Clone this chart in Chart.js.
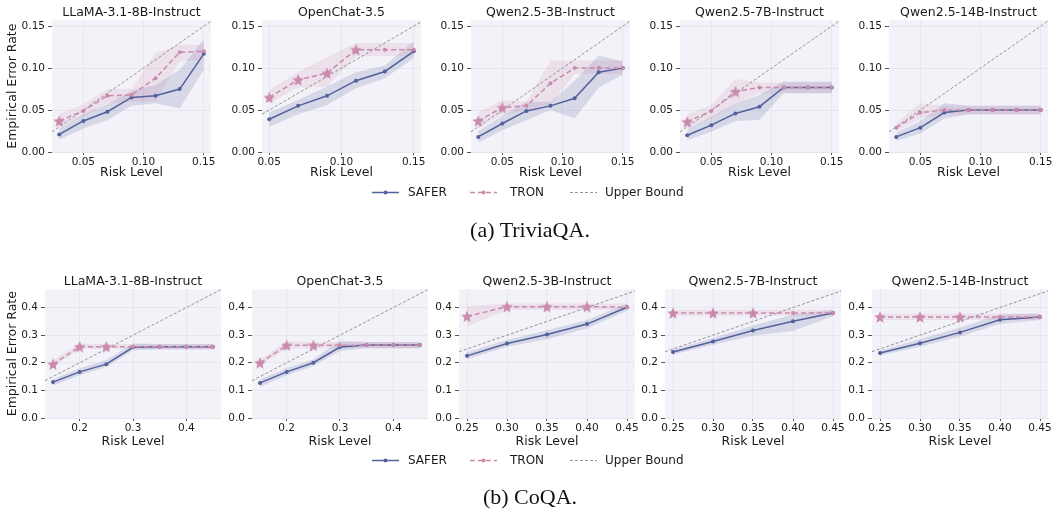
<!DOCTYPE html>
<html>
<head>
<meta charset="utf-8">
<script src="https://cdn.jsdelivr.net/npm/chart.js@4.4.1/dist/chart.umd.min.js"></script>
<style>
  body { margin: 0; background: #fff; width: 1057px; height: 519px; position: relative; overflow: hidden; font-family: "DejaVu Sans", sans-serif; }
  canvas { position: absolute; }
  .ttl { position: absolute; font-size: 12.5px; color: #1a1a1a; white-space: nowrap; transform: translate(-50%, -50%); }
  .leg { position: absolute; font-size: 12px; color: #1a1a1a; white-space: nowrap; transform: translateY(-50%); }
  .legsvg { position: absolute; transform: translateY(-50%); }
  .cap { position: absolute; font-family: "Liberation Serif", "Times New Roman", serif; font-size: 22px; color: #111; white-space: nowrap; transform: translate(-50%, -50%); }
</style>
</head>
<body>
<script>
// ---- data ----
const models = ['LLaMA-3.1-8B-Instruct', 'OpenChat-3.5', 'Qwen2.5-3B-Instruct', 'Qwen2.5-7B-Instruct', 'Qwen2.5-14B-Instruct'];

const triviaRiskA = [0.03, 0.05, 0.07, 0.09, 0.11, 0.13, 0.15];
const triviaRiskB = [0.05, 0.07, 0.09, 0.11, 0.13, 0.15];
const triviaRisk = [triviaRiskA, triviaRiskB, triviaRiskA, triviaRiskA, triviaRiskA];

const triviaSafer = [
  [0.021, 0.037, 0.048, 0.065, 0.067, 0.075, 0.117],
  [0.039, 0.055, 0.067, 0.085, 0.096, 0.120],
  [0.018, 0.034, 0.049, 0.055, 0.064, 0.095, 0.100],
  [0.020, 0.032, 0.046, 0.054, 0.077, 0.077, 0.077],
  [0.018, 0.029, 0.047, 0.050, 0.050, 0.050, 0.050]
];
const triviaSaferLo = [
  [0.015, 0.028, 0.038, 0.055, 0.058, 0.052, 0.098],
  [0.030, 0.045, 0.056, 0.076, 0.088, 0.112],
  [0.011, 0.026, 0.038, 0.050, 0.040, 0.077, 0.092],
  [0.014, 0.024, 0.037, 0.038, 0.070, 0.070, 0.070],
  [0.013, 0.022, 0.040, 0.045, 0.045, 0.045, 0.045]
];
const triviaSaferHi = [
  [0.028, 0.045, 0.057, 0.073, 0.080, 0.098, 0.134],
  [0.047, 0.062, 0.078, 0.095, 0.103, 0.132],
  [0.025, 0.043, 0.060, 0.060, 0.085, 0.115, 0.108],
  [0.027, 0.042, 0.058, 0.068, 0.084, 0.084, 0.084],
  [0.023, 0.037, 0.058, 0.055, 0.055, 0.055, 0.055]
];
const triviaTron = [
  [0.037, 0.049, 0.067, 0.068, 0.088, 0.119, 0.120],
  [0.065, 0.086, 0.094, 0.122, 0.122, 0.122],
  [0.037, 0.053, 0.055, 0.082, 0.100, 0.100, 0.100],
  [0.036, 0.049, 0.072, 0.077, 0.077, 0.077, 0.077],
  [0.029, 0.047, 0.050, 0.050, 0.050, 0.050, 0.050]
];
const triviaTronLo = [
  [0.030, 0.042, 0.058, 0.060, 0.060, 0.108, 0.110],
  [0.058, 0.077, 0.078, 0.114, 0.114, 0.114],
  [0.028, 0.044, 0.050, 0.057, 0.093, 0.093, 0.093],
  [0.028, 0.040, 0.058, 0.070, 0.070, 0.070, 0.070],
  [0.024, 0.040, 0.045, 0.045, 0.045, 0.045, 0.045]
];
const triviaTronHi = [
  [0.045, 0.057, 0.075, 0.075, 0.118, 0.128, 0.128],
  [0.074, 0.095, 0.113, 0.130, 0.130, 0.130],
  [0.047, 0.062, 0.060, 0.109, 0.109, 0.109, 0.109],
  [0.045, 0.056, 0.087, 0.083, 0.083, 0.083, 0.083],
  [0.035, 0.058, 0.055, 0.055, 0.055, 0.055, 0.055]
];

const coqaRiskA = [0.15, 0.20, 0.25, 0.30, 0.35, 0.40, 0.45];
const coqaRiskB = [0.25, 0.30, 0.35, 0.40, 0.45];
const coqaRisk = [coqaRiskA, coqaRiskA, coqaRiskB, coqaRiskB, coqaRiskB];

const coqaSafer = [
  [0.130, 0.167, 0.195, 0.256, 0.258, 0.258, 0.258],
  [0.127, 0.167, 0.200, 0.257, 0.264, 0.264, 0.264],
  [0.225, 0.270, 0.302, 0.340, 0.401],
  [0.239, 0.277, 0.317, 0.350, 0.380],
  [0.235, 0.271, 0.310, 0.356, 0.366]
];
const coqaSaferLo = [
  [0.118, 0.155, 0.185, 0.245, 0.248, 0.248, 0.248],
  [0.113, 0.155, 0.188, 0.243, 0.253, 0.253, 0.253],
  [0.213, 0.258, 0.285, 0.325, 0.388],
  [0.230, 0.265, 0.298, 0.315, 0.368],
  [0.226, 0.258, 0.295, 0.340, 0.355]
];
const coqaSaferHi = [
  [0.140, 0.180, 0.210, 0.270, 0.268, 0.268, 0.268],
  [0.140, 0.180, 0.213, 0.280, 0.275, 0.275, 0.275],
  [0.238, 0.282, 0.318, 0.355, 0.415],
  [0.248, 0.290, 0.335, 0.375, 0.392],
  [0.244, 0.285, 0.328, 0.375, 0.378]
];
const coqaTron = [
  [0.195, 0.258, 0.258, 0.258, 0.258, 0.258, 0.258],
  [0.200, 0.263, 0.263, 0.263, 0.264, 0.264, 0.264],
  [0.368, 0.403, 0.403, 0.403, 0.401],
  [0.380, 0.380, 0.380, 0.380, 0.380],
  [0.366, 0.366, 0.366, 0.366, 0.366]
];
const coqaTronLo = [
  [0.185, 0.250, 0.250, 0.250, 0.250, 0.250, 0.250],
  [0.190, 0.250, 0.253, 0.253, 0.253, 0.253, 0.253],
  [0.330, 0.392, 0.392, 0.392, 0.392],
  [0.370, 0.370, 0.370, 0.370, 0.370],
  [0.355, 0.355, 0.355, 0.355, 0.355]
];
const coqaTronHi = [
  [0.210, 0.270, 0.268, 0.268, 0.268, 0.268, 0.268],
  [0.210, 0.278, 0.275, 0.275, 0.275, 0.275, 0.275],
  [0.405, 0.415, 0.415, 0.415, 0.415],
  [0.392, 0.392, 0.392, 0.392, 0.392],
  [0.378, 0.378, 0.378, 0.378, 0.378]
];

// tick labels
const triviaXTicks = [0.05, 0.10, 0.15];
const triviaYTicks = [0.00, 0.05, 0.10, 0.15];
const coqaXTicksA = [0.2, 0.3, 0.4];
const coqaXTicksB = [0.25, 0.30, 0.35, 0.40, 0.45];
const coqaYTicks = [0.0, 0.1, 0.2, 0.3, 0.4];

// ---- style ----
const SAFER_C = '#52609b';
const TRON_C = '#c98aab';
const SAFER_BAND = 'rgba(82,96,155,0.18)';
const TRON_BAND = 'rgba(201,138,171,0.17)';
const PLOT_BG = '#f3f2f8';
const GRID_C = '#e7e6ee';
const TEXT_C = '#1a1a1a';

function makeStar(size, color) {
  const c = document.createElement('canvas');
  c.width = c.height = size;
  const g = c.getContext('2d');
  const r = size / 2, ri = r * 0.45;
  g.beginPath();
  for (let i = 0; i < 10; i++) {
    const a = -Math.PI / 2 + i * Math.PI / 5;
    const rr = i % 2 ? ri : r;
    g.lineTo(r + rr * Math.cos(a), r + rr * 1.05 * Math.sin(a) + 0.6);
  }
  g.closePath();
  g.fillStyle = color;
  g.fill();
  return c;
}
const star = makeStar(12, TRON_C);

const bgPlugin = {
  id: 'bg',
  beforeDraw(chart) {
    const { ctx, chartArea: a } = chart;
    ctx.save();
    ctx.fillStyle = PLOT_BG;
    ctx.fillRect(a.left, a.top, a.right - a.left, a.bottom - a.top);
    ctx.restore();
  }
};

function addText(cls, txt, x, y) {
  const d = document.createElement('div');
  d.className = cls;
  d.textContent = txt;
  d.style.left = x + 'px';
  d.style.top = y + 'px';
  document.body.appendChild(d);
}

function panel(o) {
  const padT = 8, padR = 16;
  const cv = document.createElement('canvas');
  cv.width = o.yw + o.w + padR;
  cv.height = padT + o.h + o.xh;
  cv.style.left = (o.left - o.yw) + 'px';
  cv.style.top = (o.top - padT) + 'px';
  document.body.appendChild(cv);

  const xr = o.risk;
  const span = xr[xr.length - 1] - xr[0];
  const xmin = xr[0] - span * 0.05, xmax = xr[xr.length - 1] + span * 0.05;
  const pts = ys => ys.map((y, i) => ({ x: xr[i], y: y }));
  const tronStyle = o.tron.map((y, i) => (y > xr[i] + 1e-9 ? star : 'circle'));

  const band = (data, color, fill, order) => ({
    data: pts(data), borderWidth: 0, pointRadius: 0, backgroundColor: color, fill: fill, order: order, tension: 0
  });

  new Chart(cv, {
    type: 'line',
    data: {
      datasets: [
        { data: pts(o.tron), borderColor: TRON_C, backgroundColor: TRON_C, borderWidth: 1.5, borderDash: [5, 3],
          pointStyle: tronStyle, pointRadius: 2, pointBorderWidth: 0, fill: false, order: 0 },
        { data: pts(o.safer), borderColor: SAFER_C, backgroundColor: SAFER_C, borderWidth: 1.5,
          pointStyle: 'circle', pointRadius: 2, pointBorderWidth: 0, fill: false, order: 1 },
        { data: [{ x: xmin, y: xmin }, { x: xmax, y: xmax }], borderColor: '#7a7a80', borderWidth: 0.8,
          borderDash: [3, 2], pointRadius: 0, fill: false, order: 2 },
        band(o.saferLo, SAFER_BAND, false, 5),
        band(o.saferHi, SAFER_BAND, '-1', 6),
        band(o.tronLo, TRON_BAND, false, 3),
        band(o.tronHi, TRON_BAND, '-1', 4)
      ]
    },
    options: {
      responsive: false,
      animation: false,
      events: [],
      layout: { padding: { top: padT, right: padR, left: 0, bottom: 0 } },
      plugins: { legend: { display: false }, tooltip: { enabled: false }, filler: { drawTime: 'beforeDatasetsDraw' } },
      scales: {
        x: {
          type: 'linear', min: xmin, max: xmax,
          afterBuildTicks: s => { s.ticks = o.xTicks.map(v => ({ value: v })); },
          afterFit: s => { s.height = o.xh; },
          ticks: { callback: v => v.toFixed(o.xDec), font: { family: 'DejaVu Sans', size: 10.5 }, color: TEXT_C,
                   padding: 1, maxRotation: 0, autoSkip: false },
          grid: { color: GRID_C, tickColor: '#555', tickLength: 3, lineWidth: 1 },
          border: { display: false },
          title: { display: true, text: 'Risk Level', font: { family: 'DejaVu Sans', size: 12.5 }, color: TEXT_C,
                   padding: { top: 0, bottom: 0 } }
        },
        y: {
          type: 'linear', min: 0, max: o.yMax,
          afterBuildTicks: s => { s.ticks = o.yTicks.map(v => ({ value: v })); },
          afterFit: s => { s.width = o.yw; },
          ticks: { callback: v => v.toFixed(o.yDec), font: { family: 'DejaVu Sans', size: 10.5 }, color: TEXT_C,
                   padding: 3, autoSkip: false },
          grid: { color: GRID_C, tickColor: '#555', tickLength: 4, lineWidth: 1 },
          border: { display: false },
          title: { display: !!o.yTitle, text: 'Empirical Error Rate', font: { family: 'DejaVu Sans', size: 12.5 },
                   color: TEXT_C, padding: { top: 5, bottom: 0 } }
        }
      }
    },
    plugins: [bgPlugin]
  });

  addText('ttl', o.title, o.left + o.w / 2, o.top - 8);
}

// row 1 : TriviaQA
const row1Left = [52, 262, 471, 680, 889];
models.forEach((m, i) => {
  panel({
    left: row1Left[i], top: 19, w: 159, h: 133, yw: i === 0 ? 52 : 40, xh: 28,
    risk: triviaRisk[i], safer: triviaSafer[i], saferLo: triviaSaferLo[i], saferHi: triviaSaferHi[i],
    tron: triviaTron[i], tronLo: triviaTronLo[i], tronHi: triviaTronHi[i],
    xTicks: triviaXTicks, yTicks: triviaYTicks, xDec: 2, yDec: 2, yMax: 0.157,
    title: m, yTitle: i === 0
  });
});

// row 2 : CoQA
const row2Left = [45, 252, 459, 665, 872];
models.forEach((m, i) => {
  panel({
    left: row2Left[i], top: 288, w: 176, h: 130, yw: i === 0 ? 45 : 36, xh: 31,
    risk: coqaRisk[i], safer: coqaSafer[i], saferLo: coqaSaferLo[i], saferHi: coqaSaferHi[i],
    tron: coqaTron[i], tronLo: coqaTronLo[i], tronHi: coqaTronHi[i],
    xTicks: i < 2 ? coqaXTicksA : coqaXTicksB, yTicks: coqaYTicks, xDec: i < 2 ? 1 : 2, yDec: 1, yMax: 0.466,
    title: m, yTitle: i === 0
  });
});

// legends
function legend(y) {
  const items = [
    { x: 372, tx: 408, label: 'SAFER', svg: '<line x1="0" y1="5" x2="27" y2="5" stroke="' + SAFER_C + '" stroke-width="1.5"/><circle cx="13.5" cy="5" r="2" fill="' + SAFER_C + '"/>' },
    { x: 470, tx: 510, label: 'TRON', svg: '<line x1="0" y1="5" x2="27" y2="5" stroke="' + TRON_C + '" stroke-width="1.5" stroke-dasharray="5 3"/><circle cx="13.5" cy="5" r="2" fill="' + TRON_C + '"/>' },
    { x: 570, tx: 605, label: 'Upper Bound', svg: '<line x1="0" y1="5" x2="27" y2="5" stroke="#7a7a80" stroke-width="0.8" stroke-dasharray="3 2"/>' }
  ];
  items.forEach(it => {
    const s = document.createElement('div');
    s.className = 'legsvg';
    s.style.left = it.x + 'px';
    s.style.top = y + 'px';
    s.innerHTML = '<svg width="27" height="10" xmlns="http://www.w3.org/2000/svg">' + it.svg + '</svg>';
    document.body.appendChild(s);
    addText('leg', it.label, it.tx, y);
  });
}
legend(192);
legend(460);

addText('cap', '(a) TriviaQA.', 530, 230);
addText('cap', '(b) CoQA.', 530, 497);
</script>
</body>
</html>
